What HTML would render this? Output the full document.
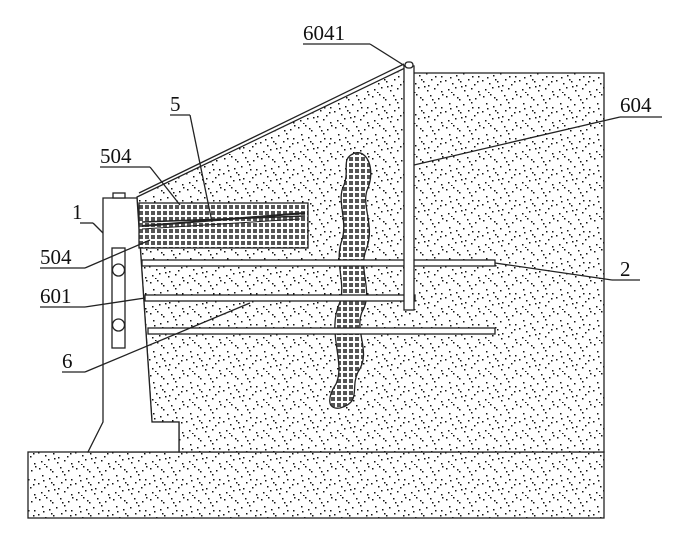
<!DOCTYPE html>
<html><head><meta charset="utf-8"><style>
html,body{margin:0;padding:0;background:#fff}
svg{display:block}
text{font-family:"Liberation Serif",serif;font-size:21px;fill:#111}
</style></head><body>
<svg width="677" height="554" viewBox="0 0 677 554" xmlns="http://www.w3.org/2000/svg">
<defs>
<pattern id="dots" width="37" height="31" patternUnits="userSpaceOnUse">
<rect width="37" height="31" fill="#fff"/>
<g fill="#111">
<rect x="2" y="3" width="1.5" height="1.5"/><rect x="9" y="1" width="1.5" height="1.5"/><rect x="15" y="6" width="1.5" height="1.5"/><rect x="23" y="2" width="1.5" height="1.5"/><rect x="31" y="5" width="1.5" height="1.5"/>
<rect x="5" y="10" width="1.5" height="1.5"/><rect x="12" y="13" width="1.5" height="1.5"/><rect x="19" y="11" width="1.5" height="1.5"/><rect x="27" y="9" width="1.5" height="1.5"/><rect x="34" y="14" width="1.5" height="1.5"/>
<rect x="1" y="18" width="1.5" height="1.5"/><rect x="8" y="21" width="1.5" height="1.5"/><rect x="16" y="19" width="1.5" height="1.5"/><rect x="24" y="17" width="1.5" height="1.5"/><rect x="30" y="22" width="1.5" height="1.5"/>
<rect x="4" y="27" width="1.5" height="1.5"/><rect x="11" y="25" width="1.5" height="1.5"/><rect x="20" y="28" width="1.5" height="1.5"/><rect x="27" y="26" width="1.5" height="1.5"/><rect x="34" y="29" width="1.5" height="1.5"/>
<rect x="13" y="4" width="1.5" height="1.5"/><rect x="21" y="23" width="1.5" height="1.5"/>
<rect x="6" y="15" width="1.5" height="1.5"/><rect x="28" y="14" width="1.5" height="1.5"/><rect x="17" y="24" width="1.5" height="1.5"/><rect x="33" y="19" width="1.5" height="1.5"/><rect x="25" y="6" width="1.5" height="1.5"/><rect x="7" y="30" width="1.5" height="1.5"/><rect x="35" y="1" width="1.5" height="1.5"/><rect x="14" y="17" width="1.5" height="1.5"/>
</g>
</pattern>
<pattern id="grid" width="6" height="6" patternUnits="userSpaceOnUse">
<rect width="6" height="6" fill="#fff"/>
<rect x="1" y="1" width="4" height="4" fill="#555"/>
</pattern>
</defs>
<g stroke="#222" stroke-width="1.3" fill="none">
<rect x="28" y="452" width="576" height="66" fill="url(#dots)"/>
<polygon points="137,197 405,68 414,73 604,73 604,452 179,452 179,422 152,422" fill="url(#dots)"/>
<line x1="139" y1="193" x2="404" y2="64"/>
<polygon points="103,198 137,198 152,422 179,422 179,452 88,452 103,422" fill="#fff"/>
<rect x="113" y="193" width="12" height="5" fill="#fff"/>
<rect x="112" y="248" width="13" height="100" fill="#fff"/>
<circle cx="118.5" cy="270" r="6"/>
<circle cx="118.5" cy="325" r="6"/>
<rect x="139" y="203" width="169" height="45" fill="url(#grid)"/>
<line x1="142" y1="226" x2="305" y2="213" stroke-width="2"/>
<line x1="142" y1="222" x2="305" y2="216" stroke-width="1.5"/>
<line x1="142" y1="229" x2="300" y2="219" stroke-width="1"/>
<path d="M355,153 C368,150 375,170 368,188 C360,205 376,225 366,250 C358,270 374,292 362,312 C354,332 372,352 358,372 C350,388 362,402 340,408 C326,410 328,396 336,384 C346,362 326,332 340,302 C346,282 334,262 342,240 C348,220 336,200 344,185 C350,170 340,158 355,153 Z" fill="url(#grid)"/>
<rect x="142" y="260" width="353" height="6" fill="#fff"/>
<rect x="145" y="295" width="270" height="6" fill="#fff"/>
<rect x="148" y="328" width="347" height="6" fill="#fff"/>
<rect x="404" y="66" width="10" height="244" fill="#fff"/>
<rect x="405" y="62" width="8" height="6" rx="3" fill="#fff"/>
<line x1="303" y1="44" x2="370" y2="44"/><line x1="370" y1="44" x2="405" y2="66"/>
<line x1="620" y1="117" x2="662" y2="117"/><line x1="620" y1="117" x2="414" y2="165"/>
<line x1="170" y1="115" x2="190" y2="115"/><line x1="190" y1="115" x2="212" y2="222"/>
<line x1="100" y1="167" x2="150" y2="167"/><line x1="150" y1="167" x2="180" y2="205"/>
<line x1="80" y1="223" x2="93" y2="223"/><line x1="93" y1="223" x2="103" y2="233"/>
<line x1="40" y1="268" x2="85" y2="268"/><line x1="85" y1="268" x2="150" y2="240"/>
<line x1="40" y1="307" x2="85" y2="307"/><line x1="85" y1="307" x2="145" y2="298"/>
<line x1="62" y1="372" x2="85" y2="372"/><line x1="85" y1="372" x2="250" y2="303"/>
<line x1="612" y1="280" x2="640" y2="280"/><line x1="612" y1="280" x2="495" y2="263"/>
</g>
<text x="303" y="40">6041</text>
<text x="620" y="112">604</text>
<text x="170" y="111">5</text>
<text x="100" y="163">504</text>
<text x="72" y="219">1</text>
<text x="40" y="264">504</text>
<text x="620" y="276">2</text>
<text x="40" y="303">601</text>
<text x="62" y="368">6</text>
</svg>
</body></html>
